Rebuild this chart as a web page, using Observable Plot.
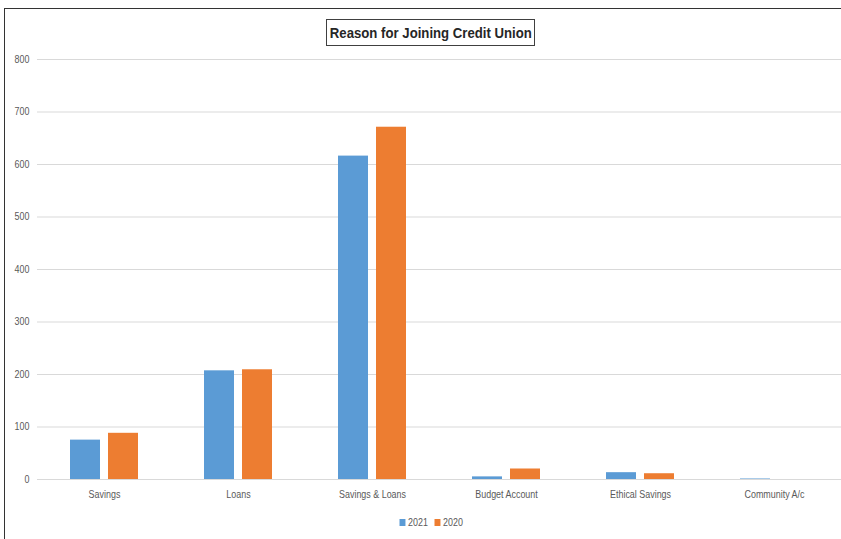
<!DOCTYPE html>
<html><head><meta charset="utf-8">
<script src="https://cdn.jsdelivr.net/npm/d3@7"></script>
<script src="https://cdn.jsdelivr.net/npm/@observablehq/plot@0.6"></script>
<style>
body{margin:0;background:#fff;}
#wrap{position:relative;width:841px;height:539px;overflow:hidden;font-family:"Liberation Sans",Arial,sans-serif;}
#frame{position:absolute;left:4px;top:8px;width:900px;height:600px;border:1.5px solid #333;box-sizing:border-box;}
#chart{position:absolute;left:0;top:0;}
#title{position:absolute;left:326px;top:19px;width:209px;height:27px;border:1px solid #404040;box-sizing:border-box;font-weight:bold;font-size:15.5px;color:#262626;display:flex;justify-content:center;align-items:center;background:#fff;white-space:nowrap;}
#title span{display:inline-block;flex:none;transform:scaleX(0.85);transform-origin:center;}
#legend{position:absolute;top:516px;left:0;width:862px;display:flex;justify-content:center;font-size:10.5px;color:#595959;}
#legend span.it{display:inline-block;margin:0 1px;transform:scaleX(0.85);}
#legend span.sw{display:inline-block;width:7px;height:7px;margin-right:3px;vertical-align:0px;}
</style>
</head><body>
<div id="wrap">
  <div id="frame"></div>
  <div id="chart"></div>
  <div id="title"><span>Reason for Joining Credit Union</span></div>
  <div id="legend"></div>
</div>
<script>
const categories = ["Savings", "Loans", "Savings & Loans", "Budget Account", "Ethical Savings", "Community A/c"];
const values2021 = [75, 207, 616, 5, 13, 1];
const values2020 = [88, 209, 671, 20, 11, 0];
const series = ["2021", "2020"];
const colors = ["#5B9BD5", "#ED7D31"];
const yTicks = [0, 100, 200, 300, 400, 500, 600, 700, 800];

const rows = categories.flatMap((c, i) => [
  {category: c, year: series[0], value: values2021[i]},
  {category: c, year: series[1], value: values2020[i]}
]);

const chart = Plot.plot({
  width: 841,
  height: 510,
  marginLeft: 37,
  marginRight: 0,
  marginTop: 59,
  marginBottom: 31,
  style: {background: "transparent", fontFamily: "'Liberation Sans',Arial,sans-serif", fontSize: "10.5px", color: "#595959"},
  x: {domain: categories, paddingInner: 0.494, paddingOuter: 0.247, label: null, tickSize: 0, tickPadding: 11},
  y: {domain: [0, 800], ticks: 8, label: null, tickSize: 0, tickPadding: 8},
  color: {domain: series, range: colors},
  marks: [
    Plot.ruleY(yTicks, {stroke: "#d9d9d9", strokeWidth: 1}),
    Plot.barY(rows.filter(d => d.year === series[0]), {x: "category", y: "value", fill: "year", insetRight: 38}),
    Plot.barY(rows.filter(d => d.year === series[1]), {x: "category", y: "value", fill: "year", insetLeft: 38})
  ]
});
document.getElementById("chart").appendChild(chart);

// condense axis text to mimic the narrow original font
chart.querySelectorAll("text").forEach(t => {
  const w = t.getComputedTextLength();
  if (w > 0) {
    t.setAttribute("textLength", (w * 0.85).toFixed(2));
    t.setAttribute("lengthAdjust", "spacingAndGlyphs");
  }
});

const legend = document.getElementById("legend");
series.forEach((s, i) => {
  const it = document.createElement("span");
  it.className = "it";
  it.innerHTML = `<span class="sw" style="background:${colors[i]}"></span>${s}`;
  legend.appendChild(it);
});
</script>
</body></html>
